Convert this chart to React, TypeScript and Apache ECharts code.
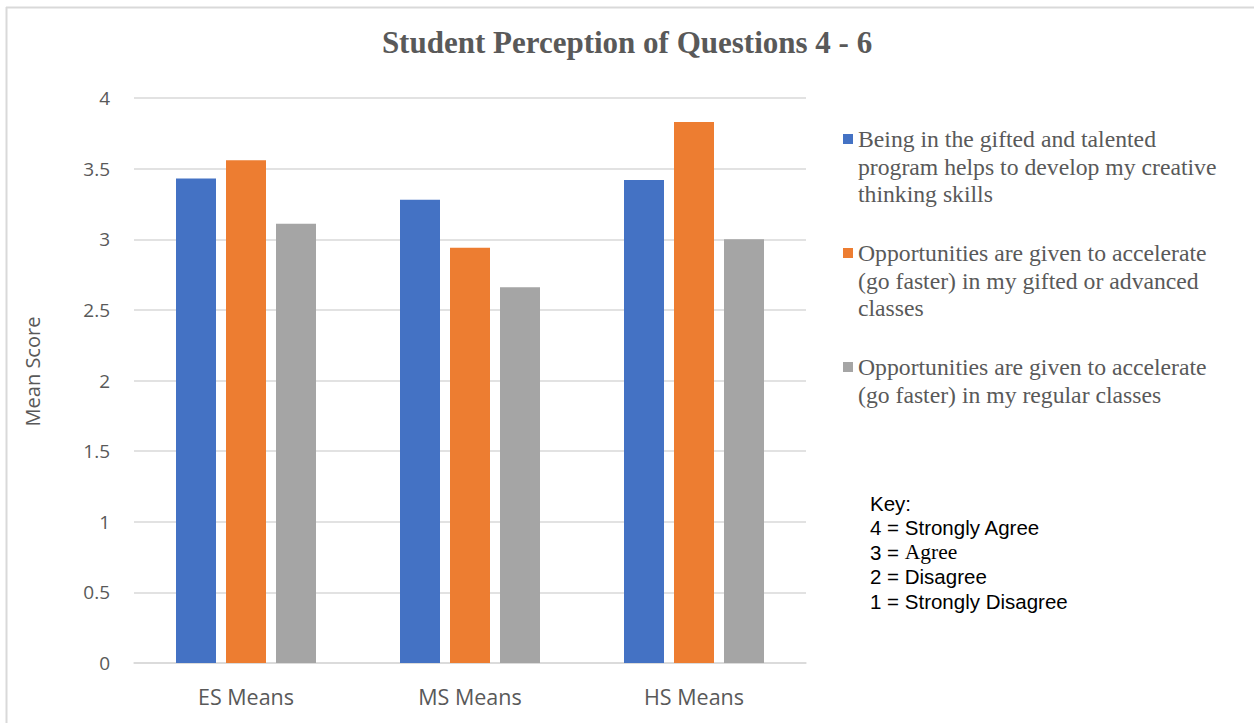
import React, { useEffect, useRef } from "react";
import * as echarts from "echarts";

const categories = ["ES Means", "MS Means", "HS Means"];
const seriesNames = [
  "Being in the gifted and talented\nprogram helps to develop my creative\nthinking skills",
  "Opportunities are given to accelerate\n(go faster) in my gifted or advanced\nclasses",
  "Opportunities are given to accelerate\n(go faster) in my regular classes",
];
const seriesColors = ["#4472C4", "#ED7D31", "#A5A5A5"];
const creativeThinking = [3.43, 3.28, 3.42];
const accelGifted = [3.56, 2.94, 3.83];
const accelRegular = [3.11, 2.66, 3.0];
const seriesValues = [creativeThinking, accelGifted, accelRegular];
const yTicks = { min: 0, max: 4, interval: 0.5 };
const keyLines = [
  "{k|Key:}",
  "{k|4 = Strongly Agree}",
  "{k|3 = }{s|Agree}",
  "{k|2 = Disagree}",
  "{k|1 = Strongly Disagree}",
];

export default function App() {
  const ref = useRef<HTMLDivElement>(null);
  useEffect(() => {
    if (!ref.current) return;
    const chart = echarts.init(ref.current, null, { renderer: "svg" });
    const legendGraphics: any[] = [];
    const legendTops = [139, 253, 367];
    seriesNames.forEach((name, i) => {
      legendGraphics.push({
        type: "rect",
        shape: { x: 843, y: legendTops[i] - 5, width: 10, height: 10 },
        style: { fill: seriesColors[i] },
      });
      legendGraphics.push({
        type: "text",
        x: 858,
        y: legendTops[i] - 13.75,
        style: {
          text: name,
          fill: "#595959",
          font: '23.7px "Liberation Serif"',
          lineHeight: 27.5,
          verticalAlign: "top",
        },
      });
    });
    const keyGraphic = {
      type: "text",
      x: 870,
      y: 490.75,
      style: {
        text: keyLines.join("\n"),
        fill: "#000000",
        font: '20.5px "Liberation Sans"',
        lineHeight: 24.5,
        verticalAlign: "top",
        rich: {
          k: { fontFamily: "Liberation Sans", fontSize: 20.5, lineHeight: 24.5, fill: "#000000" },
          s: { fontFamily: "Liberation Serif", fontSize: 21.5, lineHeight: 24.5, fill: "#000000" },
        },
      },
    };
    chart.setOption({
      animation: false,
      backgroundColor: "#ffffff",
      title: {
        text: "Student Perception of Questions 4 - 6",
        left: "center",
        top: 22,
        textStyle: {
          fontFamily: "Liberation Serif",
          fontWeight: "bold",
          fontSize: 31,
          color: "#595959",
        },
      },
      grid: { left: 134, right: 448, top: 98, bottom: 60, containLabel: false },
      xAxis: {
        type: "category",
        data: categories,
        axisLine: { lineStyle: { color: "#d9d9d9", width: 1.5 } },
        axisTick: { show: false },
        axisLabel: {
          color: "#595959",
          fontFamily: "Open Sans",
          fontSize: 21.5,
          margin: 22,
        },
      },
      yAxis: {
        type: "value",
        min: yTicks.min,
        max: yTicks.max,
        interval: yTicks.interval,
        name: "Mean Score",
        nameLocation: "middle",
        nameGap: 92,
        nameTextStyle: {
          color: "#595959",
          fontFamily: "Open Sans",
          fontSize: 20,
          padding: [0, 0, 0, 18],
        },
        axisLine: { show: false },
        axisTick: { show: false },
        axisLabel: {
          color: "#595959",
          fontFamily: "Open Sans",
          fontSize: 19,
          margin: 24,
        },
        splitLine: { lineStyle: { color: "#d9d9d9", width: 1.5 } },
      },
      series: seriesValues.map((vals, i) => ({
        type: "bar",
        name: seriesNames[i],
        data: vals,
        barWidth: 40,
        barGap: "25%",
        itemStyle: { color: seriesColors[i] },
      })),
      graphic: [
        {
          type: "line",
          shape: { x1: 6.5, y1: 7, x2: 6.5, y2: 723 },
          style: { stroke: "#d9d9d9", lineWidth: 2 },
        },
        {
          type: "line",
          shape: { x1: 6, y1: 7.5, x2: 1254, y2: 7.5 },
          style: { stroke: "#d9d9d9", lineWidth: 2 },
        },
        ...legendGraphics,
        keyGraphic,
      ],
    });
    return () => chart.dispose();
  }, []);
  return (
    <div
      ref={ref}
      style={{ position: "fixed", left: 0, top: 0, width: 1254, height: 723 }}
    />
  );
}
